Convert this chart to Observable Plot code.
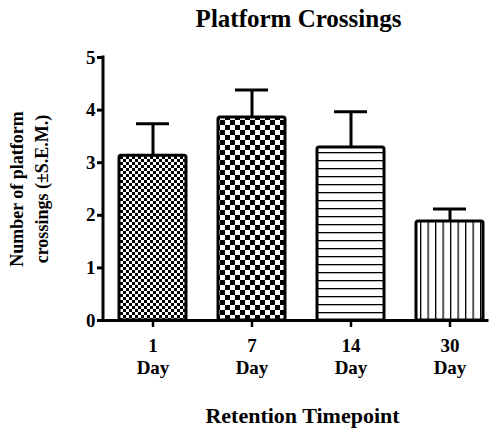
<!DOCTYPE html>
<html><head><meta charset="utf-8">
<script src="https://cdn.jsdelivr.net/npm/d3@7"></script>
<script src="https://cdn.jsdelivr.net/npm/@observablehq/plot@0.6"></script>
<style>html,body{margin:0;padding:0;background:#fff} svg{display:block}</style>
</head><body><div id="chart"></div>
<script>
// ---- data ----
const categories = ["1", "7", "14", "30"];
const unitLabel = "Day";
const means = [3.13, 3.86, 3.29, 1.88];
const sems = [0.61, 0.52, 0.68, 0.24];
const yTicks = [0, 1, 2, 3, 4, 5];
const title = "Platform Crossings";
const yLabelLines = ["Number of platform", "crossings (±S.E.M.)"];
const xLabel = "Retention Timepoint";

const rows = categories.map((c, i) => ({cat: c, mean: means[i], sem: sems[i], top: means[i] + sems[i], i}));
const patternIds = ["pat0", "pat1", "pat2", "pat3"];
const FONT = "'Liberation Serif', 'Times New Roman', serif";

const yAxisLine = (index, scales, values, dimensions) => {
  const x = dimensions.marginLeft;
  return d3.create("svg:line")
    .attr("x1", x).attr("x2", x)
    .attr("y1", scales.y(0)).attr("y2", scales.y(yTicks[yTicks.length - 1]))
    .attr("stroke", "black").attr("stroke-width", 3).attr("stroke-linecap", "square")
    .node();
};

const svg = Plot.plot({
  width: 496,
  height: 429,
  marginTop: 57,
  marginBottom: 109,
  marginLeft: 103,
  marginRight: 9,
  style: {background: "white", color: "black", fontFamily: FONT},
  x: {domain: categories, range: [103.5, 499.5], paddingInner: 0.32, paddingOuter: 0.16, label: null},
  y: {domain: [0, 5], label: null},
  color: {type: "identity"},
  marks: [
    Plot.ruleX(rows, {x: "cat", y1: "mean", y2: "top", stroke: "black", strokeWidth: 3}),
    Plot.tickY(rows, {x: "cat", y: "top", stroke: "black", strokeWidth: 3, insetLeft: 17, insetRight: 17}),
    Plot.barY(rows, {x: "cat", y: "mean", fill: d => `url(#${patternIds[d.i]})`, stroke: "black", strokeWidth: 3, rx: 2}),
    Plot.ruleY([0], {stroke: "black", strokeWidth: 3, strokeLinecap: "square"}),
    yAxisLine,
    Plot.axisY({ticks: yTicks, label: null, tickSize: 6, tickPadding: 2, strokeWidth: 3, fontSize: 19, fontWeight: "bold", fontFamily: FONT, tickFormat: d => String(d)}),
    Plot.axisX({label: null, tickSize: 7, tickPadding: 9, strokeWidth: 2.5, fontSize: 19, fontWeight: "bold", fontFamily: FONT, lineHeight: 1.15, tickFormat: d => d + "\n" + unitLabel}),
    Plot.text([title], {frameAnchor: "top", lineAnchor: "bottom", dy: -31, dx: 3, fontSize: 25, fontWeight: "bold", fontFamily: FONT}),
    Plot.text([yLabelLines[0]], {frameAnchor: "left", textAnchor: "middle", rotate: -90, dx: -86, fontSize: 18, fontWeight: "bold", fontFamily: FONT}),
    Plot.text([yLabelLines[1]], {frameAnchor: "left", textAnchor: "middle", rotate: -90, dx: -61, fontSize: 18, fontWeight: "bold", fontFamily: FONT}),
    Plot.text([xLabel], {frameAnchor: "bottom", lineAnchor: "bottom", dy: 102, dx: 7, fontSize: 22, fontWeight: "bold", fontFamily: FONT})
  ]
});

// patterns
const defs = d3.select(svg).insert("defs", ":first-child");
function checker(id, s) {
  const p = defs.append("pattern").attr("id", id).attr("patternUnits", "userSpaceOnUse").attr("width", 2 * s).attr("height", 2 * s);
  p.append("rect").attr("width", 2 * s).attr("height", 2 * s).attr("fill", "white");
  p.append("rect").attr("width", s).attr("height", s).attr("fill", "black");
  p.append("rect").attr("x", s).attr("y", s).attr("width", s).attr("height", s).attr("fill", "black");
}
function lines(id, s, vertical) {
  const p = defs.append("pattern").attr("id", id).attr("patternUnits", "userSpaceOnUse").attr("width", s).attr("height", s);
  p.append("rect").attr("width", s).attr("height", s).attr("fill", "white");
  if (vertical) p.append("rect").attr("x", 0).attr("width", 1.3).attr("height", s).attr("fill", "black");
  else p.append("rect").attr("y", 0).attr("height", 1.3).attr("width", s).attr("fill", "black");
}
checker("pat0", 3);
checker("pat1", 5);
lines("pat2", 8, false);
lines("pat3", 7.5, true);

document.getElementById("chart").appendChild(svg);
</script>
</body></html>
